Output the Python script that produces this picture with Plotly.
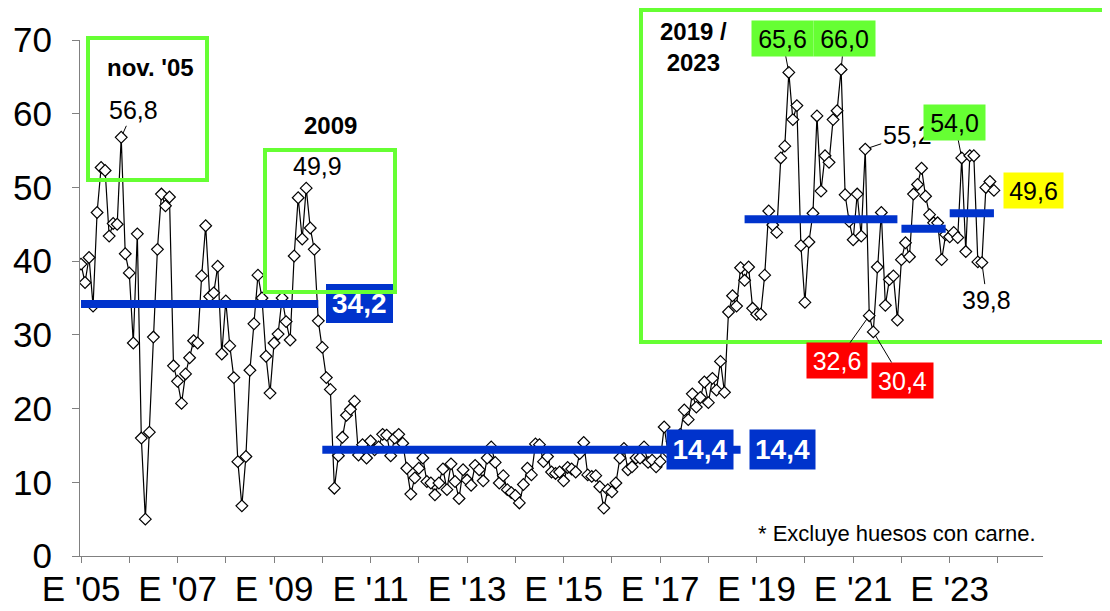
import plotly.graph_objects as go

# ---------------- data (monthly, Jan 2005 .. Dec 2023) ----------------
start_year = 2005
values = [
    39.6, 37.1, 40.5, 33.9, 46.6, 52.7, 52.3, 43.4, 45.1, 45.0, 56.8, 41.0,
    38.4, 28.9, 43.7, 16.0, 5.0, 16.8, 29.7, 41.6, 49.1, 47.5, 48.7, 25.8,
    23.7, 20.7, 24.7, 26.9, 29.2, 28.9, 38.0, 44.8, 35.2, 35.7, 39.3, 27.4,
    34.6, 28.5, 24.2, 12.8, 6.8, 13.5, 25.2, 31.5, 38.1, 35.0, 27.1, 22.1,
    28.9, 30.1, 35.0, 31.8, 29.3, 40.7, 48.6, 43.0, 49.9, 44.5, 41.6, 31.9,
    28.3, 24.2, 22.6, 9.2, 13.6, 16.1, 19.1, 19.9, 21.0, 13.7, 15.1, 13.3,
    15.6, 14.4, 14.8, 16.5, 16.4, 13.6, 16.0, 16.5, 15.3, 11.9, 8.4, 10.6,
    11.9, 13.3, 10.1, 9.9, 8.3, 9.9, 11.8, 9.0, 12.5, 10.1, 7.8, 11.7,
    10.3, 9.6, 12.3, 11.7, 10.2, 13.3, 14.8, 12.7, 9.9, 10.9, 9.0, 8.6,
    8.2, 7.2, 9.7, 11.9, 11.0, 15.2, 15.1, 12.8, 13.5, 11.4, 11.2, 11.4,
    10.2, 12.0, 11.8, 11.4, 13.9, 15.4, 11.0, 10.8, 10.9, 9.4, 6.5, 9.0,
    8.7, 9.9, 13.3, 14.6, 11.7, 12.1, 13.3, 13.3, 14.8, 12.7, 13.0, 12.1,
    12.8, 17.5, 14.0, 15.5, 13.5, 16.5, 19.8, 18.5, 22.0, 20.2, 21.5, 23.6,
    20.8, 24.1, 22.5, 26.4, 22.2, 33.1, 35.3, 33.9, 39.1, 37.4, 39.2, 33.6,
    32.8, 32.8, 38.1, 46.8, 44.9, 43.9, 54.0, 55.6, 65.6, 59.2, 61.1, 42.1,
    34.4, 42.6, 46.5, 59.7, 49.5, 54.3, 53.4, 59.2, 60.4, 66.0, 49.0, 45.4,
    42.9, 49.1, 43.4, 55.2, 32.6, 30.4, 39.2, 46.6, 34.0, 37.5, 38.0, 32.0,
    40.2, 42.5, 40.6, 49.1, 50.4, 52.6, 48.8, 46.3, 45.2, 45.2, 40.2, 43.6,
    43.3, 43.9, 43.2, 54.0, 41.3, 54.3, 54.3, 39.9, 39.8, 50.0, 50.8, 49.6,
]

# period averages (first / last month index of each period)
avg_start = [0, 60, 165, 204, 216]
avg_end = [59, 164, 203, 215, 227]
avg_values = [34.2, 14.4, 45.7, 44.4, 46.5]

tick_years = list(range(2005, 2024, 2))
tick_labels = ["E '" + str(y)[2:] for y in tick_years]

note = "* Excluye huesos con carne."

# ---------------- figure ----------------
FONT = "Arial, Liberation Sans, sans-serif"
OFF = 8                      # page body margin of the browser
W, H = 1110 - OFF, 611 - OFF
ML, MR, MT, MB = 72, 67, 32, 55
PW, PH = W - ML - MR, H - MT - MB

def px(xp):                  # screen pixel -> paper x
    return (xp - OFF - ML) / PW

def py(yp):                  # screen pixel -> paper y
    return (H - MB - (yp - OFF)) / PH

x = list(range(len(values)))

fig = go.Figure()
fig.add_trace(go.Scatter(
    x=x, y=values, mode="lines+markers",
    line=dict(color="black", width=1.2),
    marker=dict(symbol="diamond", size=9, color="white",
                line=dict(color="black", width=1.2)),
    hoverinfo="skip", showlegend=False))

for s, e, v in zip(avg_start, avg_end, avg_values):
    fig.add_trace(go.Scatter(
        x=[s, e], y=[v, v], mode="lines",
        line=dict(color="#0033cc", width=8),
        hoverinfo="skip", showlegend=False))

GREEN = "#66ff33"
shapes = []
# avg label box drawn as a shape so the green frame passes over it
shapes.append(dict(type="rect", xref="paper", yref="paper",
                   x0=px(326), x1=px(393), y0=py(323), y1=py(284),
                   fillcolor="#0033cc", line=dict(width=0), layer="above"))
for (x0, y0, x1, y1) in [(88, 38, 207, 180), (265, 150, 395, 292), (641, 10, 1108, 342)]:
    shapes.append(dict(type="rect", xref="paper", yref="paper",
                       x0=px(x0), x1=px(x1), y0=py(y1), y1=py(y0),
                       line=dict(color=GREEN, width=4), fillcolor="rgba(0,0,0,0)",
                       layer="above"))

def paper_text(xp, yp, txt, size, bold=False):
    return dict(xref="paper", yref="paper", x=px(xp), y=py(yp),
                xanchor="center", yanchor="middle",
                text=("<b>%s</b>" % txt) if bold else txt, showarrow=False,
                font=dict(size=size, family=FONT, color="black"))

ann = []
ann.append(paper_text(150, 68, "nov. '05", 24, True))
ann.append(paper_text(330, 126, "2009", 24, True))
ann.append(paper_text(693, 47, "2019 /<br>2023", 24, True))
ann.append(paper_text(897, 533, note, 22))

# 34,2 text (box is a shape)
ann.append(dict(x=avg_end[0], y=avg_values[0], xshift=41, yshift=0, text="<b>34,2</b>",
                xanchor="center", yanchor="middle",
                showarrow=False, font=dict(size=28, family=FONT, color="white")))
# 14,4 boxes
for dx, w in [(-40.5, 66), (42, 65)]:
    ann.append(dict(x=avg_end[1], y=avg_values[1], xshift=dx, text="<b>14,4</b>",
                    xanchor="center", yanchor="middle",
                    showarrow=False, bgcolor="#0033cc", width=w, height=39,
                    borderpad=0, font=dict(size=28, family=FONT, color="white")))

def val_label(i, txt, ax, ay, bg=None, fc="black", w=None, h=None):
    d = dict(x=i, y=values[i], text=txt, showarrow=True, arrowhead=0,
             arrowwidth=1, arrowcolor="black", ax=ax, ay=ay, standoff=4,
             font=dict(size=25, family=FONT, color=fc))
    if bg:
        d.update(bgcolor=bg, width=w, height=h, borderpad=0)
    return d

ann.append(val_label(10, "56,8", 12, -27))
ann.append(val_label(176, "65,6", -6.5, -34, GREEN, "black", 61, 35))
ann.append(val_label(189, "66,0", 3, -31, GREEN, "black", 61, 35))
ann.append(val_label(195, "55,2", 42, -14))
ann.append(val_label(219, "54,0", -7, -35.5, GREEN, "black", 61, 35))
ann.append(val_label(224, "39,8", 5, 37))
ann.append(val_label(196, "32,6", -32, 45, "#ff0000", "white", 60, 35))
ann.append(val_label(197, "30,4", 29, 48.5, "#ff0000", "white", 61, 35))
ann.append(dict(x=56, y=values[56], xshift=11, yshift=22, text="49,9", showarrow=False,
                xanchor="center", yanchor="middle",
                font=dict(size=25, family=FONT, color="black")))
ann.append(dict(x=227, y=values[227], xshift=39.5, yshift=0, text="49,6", showarrow=False,
                xanchor="center", yanchor="middle",
                bgcolor="#ffff00", width=59, height=35, borderpad=0,
                font=dict(size=25, family=FONT, color="black")))

fig.update_layout(
    width=W, height=H, margin=dict(l=ML, r=MR, t=MT, b=MB, pad=0, autoexpand=False),
    paper_bgcolor="white", plot_bgcolor="white",
    font=dict(family=FONT, color="black"),
    shapes=shapes, annotations=ann, showlegend=False,
    xaxis=dict(range=[-0.25, 239.2], tickmode="array", automargin=False,
               tickvals=[(y - start_year) * 12 for y in tick_years], ticktext=tick_labels,
               ticks="outside", ticklen=6, tickcolor="#808080", showgrid=False,
               zeroline=False, showline=True, linecolor="#808080", linewidth=1,
               tickfont=dict(size=35, family=FONT, color="black"), ticklabelstandoff=-4,
               minor=dict(tick0=0, dtick=12, ticks="outside", ticklen=6, tickcolor="#808080")),
    yaxis=dict(range=[0, 70], tickmode="linear", tick0=0, dtick=10, automargin=False,
               ticks="outside", ticklen=7, tickcolor="#808080", showgrid=False,
               zeroline=False, showline=True, linecolor="#808080", linewidth=1,
               tickfont=dict(size=35, family=FONT, color="black"), ticklabelstandoff=13),
)

fig.write_html("out.html")
